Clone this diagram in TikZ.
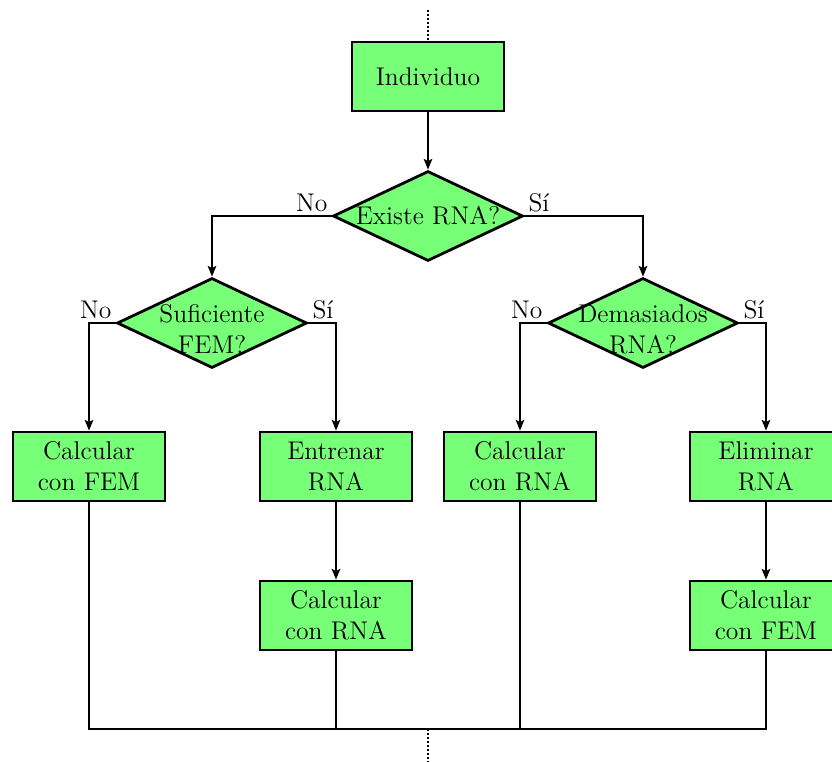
\documentclass[tikz,border=0pt]{standalone}
\usetikzlibrary{shapes.geometric,arrows.meta}
\definecolor{boxgreen}{RGB}{120,255,120}
\begin{document}
\begin{tikzpicture}[x=0.469pt,y=-0.469pt,
  every node/.style={font=\fontsize{12}{14.5}\selectfont},
  procbox/.style={draw=black,line width=1.3pt,fill=boxgreen,minimum width=152*0.469pt,minimum height=69*0.469pt,inner sep=0pt,align=center},
  decision/.style={draw=black,line width=1.3pt,fill=boxgreen,diamond,minimum width=190*0.469pt,minimum height=90*0.469pt,inner sep=0pt},
  conn/.style={line width=0.9pt},
  arr/.style={conn,-{Stealth[length=5pt,width=4pt,inset=1pt]}},
  lbl/.style={inner sep=1.5pt}]
\useasboundingbox (0,0) rectangle (832,762);
\node[procbox] (ind) at (428,76.5) {Individuo};
\node[decision,label={[align=center]center:Existe RNA?}] (d1) at (428,216) {};
\node[decision,label={[align=center,yshift=-3pt]center:Suficiente\\FEM?}] (d2) at (212,323) {};
\node[decision,label={[align=center,yshift=-3pt]center:Demasiados\\RNA?}] (d3) at (643,323) {};
\node[procbox] (cfem1) at (89,466.5) {Calcular\\con FEM};
\node[procbox] (ent) at (336,466.5) {Entrenar\\RNA};
\node[procbox] (crna1) at (520,466.5) {Calcular\\con RNA};
\node[procbox] (elim) at (766,466.5) {Eliminar\\RNA};
\node[procbox] (crna2) at (336,615.5) {Calcular\\con RNA};
\node[procbox] (cfem2) at (766,615.5) {Calcular\\con FEM};
\coordinate (top) at (428,10);
\coordinate (bot) at (428,729);
\coordinate (end) at (428,762);
\draw[conn,densely dotted] (top) -- (ind.north);
\draw[arr] (ind) -- (d1);
\draw[arr] (d1.west) node[lbl,above left] {No} -| (d2.north);
\draw[arr] (d1.east) node[lbl,above right] {Sí} -| (d3.north);
\draw[arr] (d2.west) node[lbl,above left] {No} -| (cfem1.north);
\draw[arr] (d2.east) node[lbl,above right] {Sí} -| (ent.north);
\draw[arr] (d3.west) node[lbl,above left] {No} -| (crna1.north);
\draw[arr] (d3.east) node[lbl,above right] {Sí} -| (elim.north);
\draw[arr] (ent) -- (crna2);
\draw[arr] (elim) -- (cfem2);
\draw[conn] (cfem1.south) |- (bot) -| (cfem2.south);
\draw[conn] (crna2.south) -- (crna2.south |- bot);
\draw[conn] (crna1.south) -- (crna1.south |- bot);
\draw[conn,densely dotted] (bot) -- (end);
\end{tikzpicture}
\end{document}
